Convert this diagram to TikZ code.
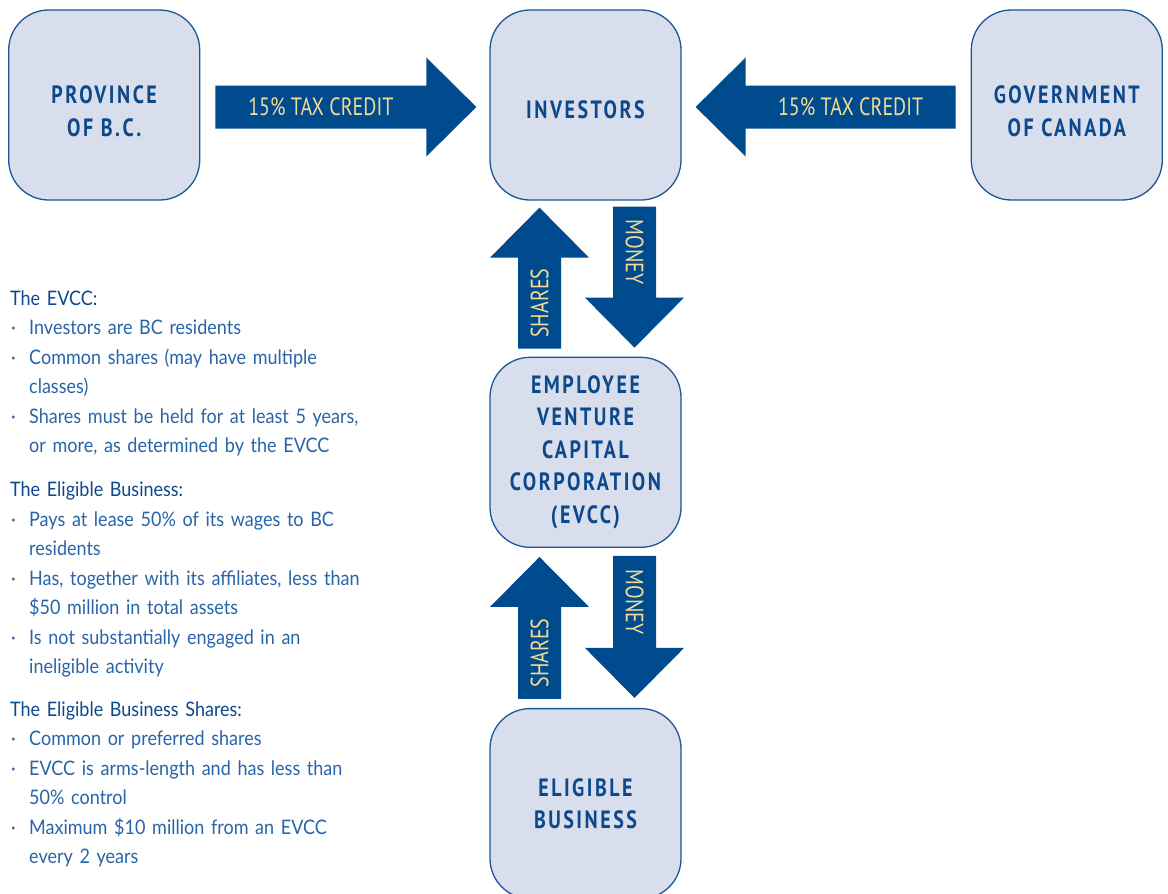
\documentclass[tikz,border=0pt]{standalone}
\usepackage{fontspec}
\setmainfont[FakeStretch=0.9]{Lato}
\newfontfamily\boxfont[FakeStretch=0.8,LetterSpace=10]{PT Sans}
\newfontfamily\tagfont[FakeStretch=0.8]{PT Sans}
\usetikzlibrary{positioning, calc}
\definecolor{boxfill}{RGB}{217,222,236}
\definecolor{boxline}{RGB}{28,86,150}
\definecolor{arrowblue}{RGB}{0,75,141}
\definecolor{tagyellow}{RGB}{244,218,150}
\definecolor{headblue}{RGB}{12,72,140}
\definecolor{bodyblue}{RGB}{40,100,168}
\tikzset{party/.style={draw=boxline,fill=boxfill,line width=1.3pt,rounded corners=40pt,minimum width=191pt,minimum height=190pt,inner sep=0pt,align=center,text=headblue,font=\boxfont\bfseries\fontsize{25}{32.5}\selectfont}}
\tikzset{tag/.style={inner sep=0pt,text=tagyellow,font=\tagfont\fontsize{25}{25}\selectfont}}
\tikzset{notes/.style={text width=420pt,align=left,inner sep=0pt,anchor=base west,text=bodyblue,font=\fontsize{20}{29.5}\selectfont}}
% block arrow: start, angle, length, text angle, name, label
\newcommand{\flowarrow}[6]{%
  \begin{scope}[shift={(#1)},rotate=#2]
    \fill[arrowblue] (0,-21.5) -- ({#3-50},-21.5) -- ({#3-50},-49.5) -- (#3,0) -- ({#3-50},49.5) -- ({#3-50},21.5) -- (0,21.5) -- cycle;
    \node[tag,rotate=#4] (#5) at ({(#3-50)/2},0) {#6};
  \end{scope}}
\newcommand{\bitem}[1]{\par\hangindent=19pt\hangafter=1\noindent\makebox[19pt][l]{\hspace{1pt}·}#1}
\newcommand{\nl}{\hfil\break}
\newcommand{\nhead}[1]{{\color{headblue}#1}}
\newcommand{\drop}[1]{\rule{0pt}{#1}}

\begin{document}
\begin{tikzpicture}[x=1pt,y=1pt]
  \clip (0,0) rectangle (1168,-894);
  \node[party] (inv) at (585.5,-105) {\drop{28pt}INVESTORS};
  \node[party] (prov) [left=289pt of inv] {\drop{30pt}PROVINCE\\OF B.C.};
  \node[party] (gov) [right=289pt of inv] {\drop{30pt}GOVERNMENT\\OF CANADA};
  \node[party] (evcc) [below=156pt of inv] {EMPLOYEE\\VENTURE\\CAPITAL\\CORPORATION\\(EVCC)};
  \node[party] (elig) [below=160pt of evcc] {ELIGIBLE\\BUSINESS};

  \flowarrow{$(prov.east)+(15,-2)$}{0}{261}{0}{provtax}{15\% TAX CREDIT}
  \flowarrow{$(gov.west)+(-15,-2)$}{180}{260}{0}{govtax}{15\% TAX CREDIT}
  \flowarrow{$(evcc.north)+(-46,8)$}{90}{141}{90}{upshares}{SHARES}
  \flowarrow{$(inv.south)+(49,-6)$}{-90}{141}{-90}{upmoney}{MONEY}
  \flowarrow{$(elig.north)+(-46,9)$}{90}{142}{90}{lowshares}{SHARES}
  \flowarrow{$(evcc.south)+(49,-8)$}{-90}{142}{-90}{lowmoney}{MONEY}

  \node[notes] (evccnotes) at (10,-305) {\nhead{The EVCC:}
    \bitem{Investors are BC residents}
    \bitem{Common shares (may have multiple\nl classes)}
    \bitem{Shares must be held for at least 5 years,\nl or more, as determined by the EVCC}\par};
  \node[notes] (bizfacts) at (10,-496.5) {\nhead{The Eligible Business:}
    \bitem{Pays at lease 50\% of its wages to BC\nl residents}
    \bitem{Has, together with its affiliates, less than\nl \$50 million in total assets}
    \bitem{Is not substantially engaged in an\nl ineligible activity}\par};
  \node[notes] (sharefacts) at (10,-716) {\nhead{The Eligible Business Shares:}
    \bitem{Common or preferred shares}
    \bitem{EVCC is arms-length and has less than\nl 50\% control}
    \bitem{Maximum \$10 million from an EVCC\nl every 2 years}\par};
\end{tikzpicture}
\end{document}
